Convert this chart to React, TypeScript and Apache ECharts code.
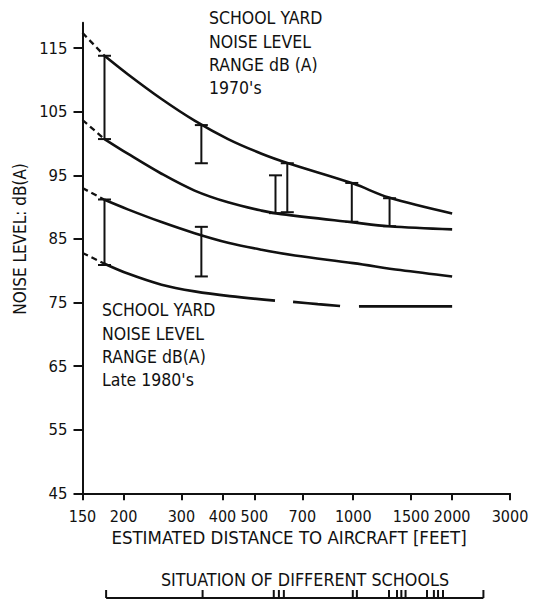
import React, { useEffect, useRef } from "react";
import * as echarts from "echarts";

// ---- data ----
const distanceTicks = [150, 200, 300, 400, 500, 700, 1000, 1500, 2000, 3000];
const levelTicks = [45, 55, 65, 75, 85, 95, 105, 115];

// 1970s range, upper curve
const upper70Dist = [175, 206, 261, 329, 416, 526, 634, 1000, 1285, 2000];
const upper70Level = [113.8, 110.9, 107.0, 103.6, 100.7, 98.4, 96.9, 93.7, 91.5, 89.0];
const upper70ExtDist = [150, 175];
const upper70ExtLevel = [117.4, 113.8];

// 1970s range, lower curve
const lower70Dist = [175, 206, 261, 329, 416, 526, 604, 1000, 1285, 2000];
const lower70Level = [100.7, 98.4, 95.25, 92.6, 90.75, 89.45, 88.9, 87.6, 87.0, 86.5];
const lower70ExtDist = [150, 175];
const lower70ExtLevel = [103.7, 100.7];

// late 1980s range, upper curve
const upper80Dist = [175, 206, 261, 329, 416, 526, 665, 1000, 1391, 2000];
const upper80Level = [91.15, 89.65, 87.65, 85.9, 84.4, 83.3, 82.4, 81.2, 80.1, 79.1];
const upper80ExtDist = [150, 175];
const upper80ExtLevel = [93.0, 91.15];

// late 1980s range, lower curve (solid part then long dashes)
const lower80Dist = [175, 206, 261, 329, 421, 578];
const lower80Level = [81.1, 79.55, 77.8, 76.75, 76.0, 75.3];
const lower80Dash1Dist = [656, 780, 912];
const lower80Dash1Level = [75.1, 74.75, 74.45];
const lower80Dash2Dist = [1041, 1400, 2000];
const lower80Dash2Level = [74.4, 74.4, 74.4];
const lower80ExtDist = [150, 175];
const lower80ExtLevel = [82.8, 81.1];

// measured ranges (error bars)
const range70Dist = [175, 345, 580, 630, 990, 1290];
const range70Low = [100.7, 96.9, 89.05, 89.2, 87.7, 87.0];
const range70High = [113.8, 102.9, 95.0, 96.9, 93.8, 91.4];
const range80Dist = [175, 345];
const range80Low = [80.9, 79.1];
const range80High = [91.2, 86.9];

// situation of the different schools
const schoolDist = [177, 348, 573, 594, 615, 997, 1026, 1285, 1359, 1401, 1443, 1677, 1760, 1812, 1876, 2490];

const FONT = "'DejaVu Sans Condensed', 'Liberation Sans Narrow', sans-serif";
const INK = "#111";

const zip = (xs: number[], ys: number[]) => xs.map((x, i) => [x, ys[i]]);

const solid = (d: number[][], z = 3) => ({
  type: "line",
  data: d,
  smooth: 0.35,
  showSymbol: false,
  symbol: "none",
  xAxisIndex: 0,
  yAxisIndex: 0,
  z,
  lineStyle: { color: INK, width: 2.6 },
});

const dashed = (d: number[][]) => ({
  type: "line",
  data: d,
  showSymbol: false,
  symbol: "none",
  xAxisIndex: 0,
  yAxisIndex: 0,
  lineStyle: { color: INK, width: 2.3, type: [6, 4] },
});

const rangeRender = (params: any, api: any) => {
  const x = api.value(0);
  const pLo = api.coord([x, api.value(1)]);
  const pHi = api.coord([x, api.value(2)]);
  const w = 6.5;
  const style = { stroke: INK, lineWidth: 2 };
  return {
    type: "group",
    children: [
      { type: "line", shape: { x1: pHi[0], y1: pHi[1], x2: pLo[0], y2: pLo[1] }, style },
      { type: "line", shape: { x1: pHi[0] - w, y1: pHi[1], x2: pHi[0] + w, y2: pHi[1] }, style },
      { type: "line", shape: { x1: pLo[0] - w, y1: pLo[1], x2: pLo[0] + w, y2: pLo[1] }, style },
    ],
  };
};

const schoolRender = (params: any, api: any) => {
  const x = api.value(0);
  const p0 = api.coord([x, 0]);
  const p1 = api.coord([x, 1]);
  return {
    type: "line",
    shape: { x1: p0[0], y1: p0[1], x2: p1[0], y2: p1[1] },
    style: { stroke: INK, lineWidth: 2 },
  };
};

export default function App() {
  const ref = useRef<HTMLDivElement>(null);
  useEffect(() => {
    if (!ref.current) return;
    const chart = echarts.init(ref.current, null, { renderer: "svg" });
    const textStyle = { fill: INK, fontFamily: FONT };
    chart.setOption({
      animation: false,
      backgroundColor: "#fff",
      textStyle: { fontFamily: FONT, color: INK },
      grid: [
        { left: 82.5, right: 24, top: 22.7, bottom: 106.7, containLabel: false },
        { left: 82.5, right: 24, top: 590, bottom: 2, containLabel: false },
      ],
      xAxis: [
        {
          type: "log",
          logBase: 10,
          gridIndex: 0,
          min: 150,
          max: 3000,
          axisLine: { show: true, lineStyle: { color: INK, width: 2 } },
          axisTick: { show: true, customValues: distanceTicks, length: 7, lineStyle: { color: INK, width: 2 } },
          axisLabel: {
            show: true,
            customValues: distanceTicks,
            margin: 15.5,
            fontSize: 16,
            color: INK,
            fontFamily: FONT,
            formatter: (v: number) => String(Math.round(v)),
          },
          splitLine: { show: false },
          minorTick: { show: false },
        },
        {
          type: "log",
          logBase: 10,
          gridIndex: 1,
          min: 150,
          max: 3000,
          show: false,
        },
      ],
      yAxis: [
        {
          type: "value",
          gridIndex: 0,
          min: 45,
          max: 119,
          axisLine: { show: true, lineStyle: { color: INK, width: 2 } },
          axisTick: { show: true, customValues: levelTicks, length: 9, lineStyle: { color: INK, width: 2 } },
          axisLabel: { show: true, customValues: levelTicks, margin: 15, fontSize: 16.5, color: INK, fontFamily: FONT },
          splitLine: { show: false },
        },
        { type: "value", gridIndex: 1, min: 0, max: 1, show: false },
      ],
      series: [
        dashed(zip(upper70ExtDist, upper70ExtLevel)),
        dashed(zip(lower70ExtDist, lower70ExtLevel)),
        dashed(zip(upper80ExtDist, upper80ExtLevel)),
        dashed(zip(lower80ExtDist, lower80ExtLevel)),
        solid(zip(upper70Dist, upper70Level)),
        solid(zip(lower70Dist, lower70Level)),
        solid(zip(upper80Dist, upper80Level)),
        solid(zip(lower80Dist, lower80Level)),
        solid(zip(lower80Dash1Dist, lower80Dash1Level)),
        solid(zip(lower80Dash2Dist, lower80Dash2Level)),
        {
          type: "custom",
          xAxisIndex: 0,
          yAxisIndex: 0,
          renderItem: rangeRender,
          encode: { x: 0, y: [1, 2] },
          data: range70Dist.map((d, i) => [d, range70Low[i], range70High[i]]),
          z: 4,
        },
        {
          type: "custom",
          xAxisIndex: 0,
          yAxisIndex: 0,
          renderItem: rangeRender,
          encode: { x: 0, y: [1, 2] },
          data: range80Dist.map((d, i) => [d, range80Low[i], range80High[i]]),
          z: 4,
        },
        {
          type: "line",
          xAxisIndex: 1,
          yAxisIndex: 1,
          data: [
            [schoolDist[0], 0],
            [schoolDist[schoolDist.length - 1], 0],
          ],
          showSymbol: false,
          symbol: "none",
          lineStyle: { color: INK, width: 2 },
        },
        {
          type: "custom",
          xAxisIndex: 1,
          yAxisIndex: 1,
          renderItem: schoolRender,
          encode: { x: 0 },
          data: schoolDist.map((d) => [d]),
        },
      ],
      graphic: [
        {
          type: "text",
          x: 20,
          y: 239,
          rotation: Math.PI / 2,
          style: { ...textStyle, text: "NOISE LEVEL: dB(A)", fontSize: 17, align: "center", verticalAlign: "middle" },
        },
        {
          type: "text",
          x: 209,
          y: 6.6,
          style: {
            ...textStyle,
            text: "SCHOOL YARD\nNOISE LEVEL\nRANGE dB (A)\n1970's",
            fontSize: 17.5,
            lineHeight: 23.3,
            align: "left",
            verticalAlign: "top",
          },
        },
        {
          type: "text",
          x: 102,
          y: 298.6,
          style: {
            ...textStyle,
            text: "SCHOOL YARD\nNOISE LEVEL\nRANGE dB(A)\nLate 1980's",
            fontSize: 17.5,
            lineHeight: 23.3,
            align: "left",
            verticalAlign: "top",
          },
        },
        {
          type: "text",
          x: 289,
          y: 537,
          style: {
            ...textStyle,
            text: "ESTIMATED DISTANCE TO AIRCRAFT [FEET]",
            fontSize: 18.5,
            align: "center",
            verticalAlign: "middle",
          },
        },
        {
          type: "text",
          x: 305,
          y: 579,
          style: {
            ...textStyle,
            text: "SITUATION OF DIFFERENT SCHOOLS",
            fontSize: 17.8,
            align: "center",
            verticalAlign: "middle",
          },
        },
      ],
    });
    return () => chart.dispose();
  }, []);
  return (
    <div
      ref={ref}
      style={{ position: "fixed", left: 0, top: 0, width: 534, height: 600, background: "#fff" }}
    />
  );
}
